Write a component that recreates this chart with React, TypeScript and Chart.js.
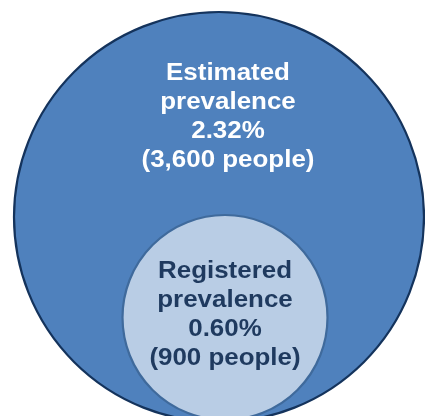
import React, { useEffect, useRef } from "react";
import { Chart, registerables } from "chart.js";

Chart.register(...registerables);

const groups = ["Estimated prevalence", "Registered prevalence"];
const prevalencePct = ["2.32", "0.60"];
const people = [3600, 900];

const fills = ["#4F81BD", "#B9CDE5"];
const borders = ["#14335C", "#3F6A9C"];
const textColors = ["#FFFFFF", "#1F3A5F"];

const labelPlugin = {
  id: "vennLabels",
  afterDatasetsDraw(chart: any) {
    const ctx = chart.ctx;
    const offsets = [{ dx: 9, dy: -100.5 }, { dx: 0, dy: -3 }];
    chart.data.datasets.forEach((ds: any, i: number) => {
      const meta = chart.getDatasetMeta(i);
      const el = meta.data[0];
      if (!el) return;
      const words = groups[i].split(" ");
      const lines = [
        ...words,
        prevalencePct[i] + "%",
        "(" + people[i].toLocaleString("en-US") + " people)",
      ];
      const lh = 29;
      const cx = el.x + offsets[i].dx;
      const cy = el.y + offsets[i].dy;
      const sx = 1.08;
      ctx.save();
      ctx.translate(cx, 0);
      ctx.scale(sx, 1);
      ctx.font = "bold 24px 'Liberation Sans', Arial, sans-serif";
      ctx.fillStyle = textColors[i];
      ctx.textAlign = "center";
      ctx.textBaseline = "middle";
      lines.forEach((t, k) => {
        ctx.fillText(t, 0, cy + (k - (lines.length - 1) / 2) * lh);
      });
      ctx.restore();
    });
  },
};

export default function App() {
  const ref = useRef<HTMLCanvasElement>(null);
  useEffect(() => {
    if (!ref.current) return;
    const k = 205 / Math.sqrt(people[0]);
    const radii = people.map((p) => k * Math.sqrt(p));
    const outerX = 219;
    const outerY = 217;
    const centers = [
      { x: outerX, y: outerY },
      { x: outerX + 6, y: outerY + radii[0] - radii[1] - 2 },
    ];
    const chart = new Chart(ref.current, {
      type: "bubble",
      data: {
        datasets: groups.map((g, i) => ({
          label: g,
          data: [{ x: centers[i].x, y: centers[i].y, r: radii[i] }],
          backgroundColor: fills[i],
          borderColor: borders[i],
          borderWidth: 2.2,
          order: groups.length - i,
          clip: false as any,
        })),
      },
      options: {
        animation: false,
        responsive: false,
        events: [],
        layout: { padding: 0, autoPadding: false } as any,
        plugins: {
          legend: { display: false },
          tooltip: { enabled: false },
          title: { display: false },
        },
        scales: {
          x: { type: "linear", min: 0, max: 425, display: false },
          y: { type: "linear", min: 0, max: 416, reverse: true, display: false },
        },
      },
      plugins: [labelPlugin],
    });
    return () => chart.destroy();
  }, []);
  return (
    <div style={{ position: "fixed", left: 0, top: 0, width: 425, height: 416, background: "#fff" }}>
      <canvas ref={ref} width={425} height={416} style={{ display: "block" }} />
    </div>
  );
}
